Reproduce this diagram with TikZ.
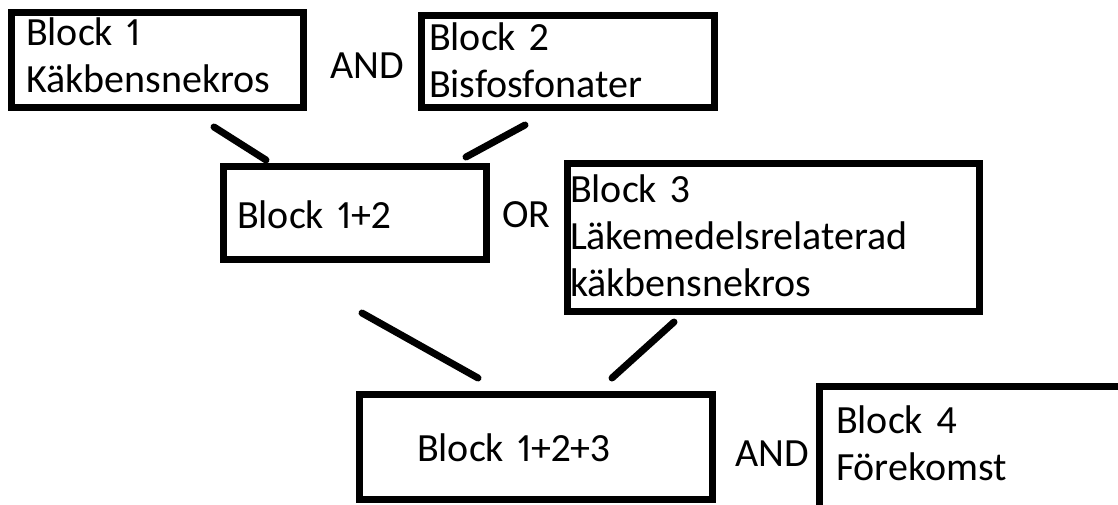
\documentclass[tikz,border=0pt]{standalone}
\usepackage{fontspec}
\setmainfont{Carlito}[Numbers=Proportional,WordSpace=0.6]
\begin{document}
\begin{tikzpicture}[x=1pt,y=-1pt,
  box/.style={draw=black,line width=7pt,rectangle,inner sep=0pt,outer sep=0pt},
  txt/.style={inner sep=0pt,outer sep=0pt,anchor=base west,align=left,text width=430pt,
    font=\fontsize{40}{47}\selectfont},
  link/.style={draw=black,line width=7pt,line cap=round}]
\useasboundingbox[fill=white] (0,0) rectangle (1118,504);
% boxes
\node[box,minimum width=292pt,minimum height=95pt] (b1) at (157.5,60) {};
\node[box,minimum width=293pt,minimum height=92pt] (b2) at (568,61.5) {};
\node[box,minimum width=263pt,minimum height=93pt] (b12) at (355,213) {};
\node[box,minimum width=412pt,minimum height=148pt] (b3) at (773,237.5) {};
\node[box,minimum width=353pt,minimum height=105pt] (b123) at (536,447) {};
\node[box,minimum width=307pt,minimum height=122pt] (b4) at (973,447.5) {};
% texts
\node[txt] (t1) at (26,45) {Block 1\\Käkbensnekros};
\node[txt] (t2) at (429,50) {Block 2\\Bisfosfonater};
\node[txt] (and1) at (330,78) {AND};
\node[txt] (t12) at (237,228) {Block 1+2};
\node[txt] (or) at (502,227) {OR};
\node[txt] (t3) at (570,202) {Block 3\\Läkemedelsrelaterad\\käkbensnekros};
\node[txt] (t123) at (417,461) {Block 1+2+3};
\node[txt] (and2) at (735,466) {AND};
\node[txt] (t4) at (836,433) {Block 4\\Förekomst};
% connectors
\coordinate (l1a) at (214,127); \coordinate (l1b) at (266,160);
\coordinate (l2a) at (525,125); \coordinate (l2b) at (466,157);
\coordinate (l3a) at (362,313); \coordinate (l3b) at (478,378);
\coordinate (l4a) at (674,322); \coordinate (l4b) at (612,378);
\draw[link] (l1a) -- (l1b);
\draw[link] (l2a) -- (l2b);
\draw[link] (l3a) -- (l3b);
\draw[link] (l4a) -- (l4b);
\end{tikzpicture}
\end{document}
